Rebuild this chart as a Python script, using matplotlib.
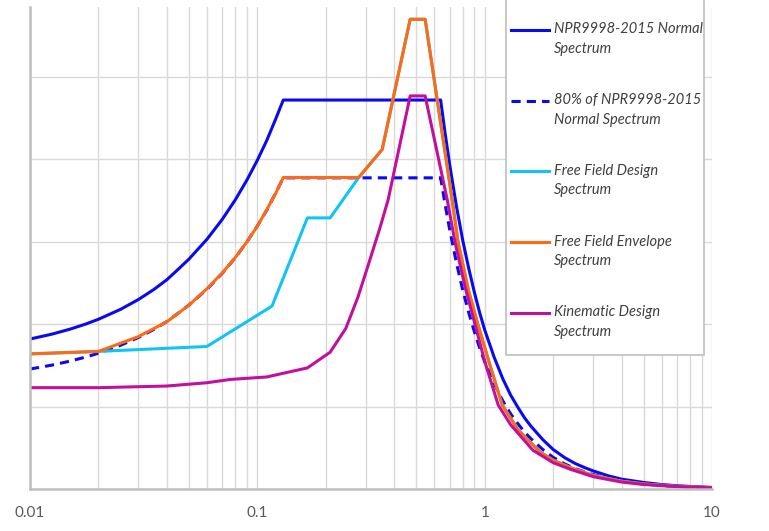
import matplotlib
matplotlib.use('Agg')
import matplotlib.pyplot as plt
from matplotlib.patches import Rectangle
from matplotlib.ticker import LogLocator, NullFormatter, FixedLocator, FixedFormatter

# period T [s] and spectral values
npr_T = [0.01, 0.0125, 0.015, 0.0175, 0.02, 0.025, 0.03, 0.035, 0.04, 0.045, 0.05, 0.06, 0.07, 0.08, 0.09,
         0.10, 0.11, 0.12, 0.13,
         0.64, 0.67, 0.70, 0.75, 0.80, 0.85, 0.90, 0.95, 1.0, 1.1, 1.2, 1.3, 1.4, 1.5, 1.6, 1.8, 2.0,
         2.25, 2.5, 2.75, 3.0, 3.5, 4.0, 5.0, 6.0, 7.0, 8.5, 10.0]
npr_Sa = [1.82, 1.88, 1.94, 2.00, 2.06, 2.18, 2.30, 2.42, 2.54, 2.67, 2.79, 3.03, 3.27, 3.51, 3.75,
          3.99, 4.23, 4.48, 4.72,
          4.72, 4.31, 3.95, 3.44, 3.02, 2.68, 2.39, 2.14, 1.93, 1.60, 1.34, 1.14, 0.99, 0.86, 0.76, 0.60, 0.48,
          0.38, 0.31, 0.26, 0.22, 0.16, 0.12, 0.08, 0.055, 0.04, 0.028, 0.02]
npr80_Sa = [0.8 * v for v in npr_Sa]

ffd_T = [0.01, 0.02, 0.06, 0.116, 0.166, 0.209, 0.279, 0.354, 0.47, 0.547,
         0.719, 0.764, 0.85, 0.935, 1.05, 1.194, 1.4, 1.75, 2.0, 2.38, 3.0, 4.0, 5.0, 7.0, 10.0]
ffd_Sa = [1.64, 1.67, 1.73, 2.22, 3.29, 3.29, 3.78, 4.12, 5.70, 5.70,
          3.51, 2.99, 2.40, 1.99, 1.52, 1.02, 0.72, 0.45, 0.35, 0.26, 0.165, 0.095, 0.062, 0.032, 0.016]

ffe_T = [0.01, 0.02, 0.03, 0.04, 0.05, 0.06, 0.07, 0.08, 0.09, 0.10, 0.11, 0.12, 0.13, 0.279, 0.354, 0.47, 0.547,
         0.719, 0.764, 0.85, 0.935, 1.05, 1.194, 1.4, 1.75, 2.0, 2.38, 3.0, 4.0, 5.0, 7.0, 10.0]
ffe_Sa = [1.64, 1.67, 1.85, 2.03, 2.23, 2.43, 2.62, 2.81, 3.00, 3.19, 3.39, 3.58, 3.78, 3.78, 4.12, 5.70, 5.70,
          3.51, 2.99, 2.40, 1.99, 1.52, 1.02, 0.72, 0.45, 0.35, 0.26, 0.165, 0.095, 0.062, 0.032, 0.016]

kin_T = [0.01, 0.02, 0.04, 0.06, 0.076, 0.11, 0.166, 0.209, 0.245, 0.277, 0.31, 0.347, 0.376, 0.47, 0.547,
         0.684, 0.741, 0.82, 0.908, 1.0, 1.146, 1.3, 1.63, 2.0, 2.38, 3.0, 4.0, 5.0, 7.0, 10.0]
kin_Sa = [1.23, 1.23, 1.25, 1.29, 1.33, 1.36, 1.47, 1.66, 1.95, 2.33, 2.75, 3.18, 3.51, 4.77, 4.77,
          3.51, 2.99, 2.45, 1.99, 1.55, 1.02, 0.78, 0.47, 0.32, 0.24, 0.15, 0.085, 0.055, 0.03, 0.015]

x_ticks = [0.01, 0.1, 1, 10]
x_labels = ['0.01', '0.1', '1', '10']

plt.rcParams['font.family'] = ['Lato', 'DejaVu Sans']

fig = plt.figure(figsize=(7.69, 5.31), dpi=100)
ax = fig.add_axes([0.039, 0.079, 0.887, 0.908])

# leading blank line keeps the legend handle level with the first text line
ax.plot(npr_T, npr_Sa, color='#0A0AF0', lw=2.2, label='\nNPR9998-2015 Normal\nSpectrum')
ax.plot(npr_T, npr80_Sa, color='#0A0AF0', lw=2.2, ls=(0, (3, 2)), label='\n80% of NPR9998-2015\nNormal Spectrum')
ax.plot(ffd_T, ffd_Sa, color='#11C4F5', lw=2.2, label='\nFree Field Design\nSpectrum')
ax.plot(ffe_T, ffe_Sa, color='#FF6A13', lw=2.2, label='\nFree Field Envelope\nSpectrum')
ax.plot(kin_T, kin_Sa, color='#C0109C', lw=2.2, label='\nKinematic Design\nSpectrum')

ax.set_xscale('log')
ax.set_xlim(0.01, 10)
ax.set_ylim(0, 5.85)
ax.xaxis.set_major_locator(FixedLocator(x_ticks))
ax.xaxis.set_major_formatter(FixedFormatter(x_labels))
ax.xaxis.set_minor_locator(LogLocator(base=10, subs=range(2, 10)))
ax.xaxis.set_minor_formatter(NullFormatter())
ax.set_yticks([0, 1, 2, 3, 4, 5])
ax.set_yticklabels([])
ax.grid(True, which='both', color='#D9D9D9', lw=1)
ax.set_axisbelow(True)
ax.tick_params(which='both', length=0)
ax.tick_params(axis='x', labelsize=11, labelcolor='#595959', pad=12)

for s in ['top', 'right']:
    ax.spines[s].set_visible(False)
for s in ['left', 'bottom']:
    ax.spines[s].set_color('#BFBFBF')
    ax.spines[s].set_linewidth(1.8)

# legend box runs off the top of the picture
box = Rectangle((0.698, 0.278), 0.290, 0.8, transform=ax.transAxes, facecolor='white',
                edgecolor='#BFBFBF', lw=1.2, zorder=4.5, clip_on=False)
ax.add_patch(box)

leg = ax.legend(loc='upper left', bbox_to_anchor=(0.705, 1.008), frameon=False,
                prop={'style': 'italic', 'size': 10.5}, handlelength=2.6, handletextpad=0.35,
                labelspacing=1.23, borderpad=0, borderaxespad=0)
leg.set_zorder(5)
for t in leg.get_texts():
    t.set_color('#404040')
    t.set_linespacing(1.49)

fig.savefig('out.png', dpi=100)
